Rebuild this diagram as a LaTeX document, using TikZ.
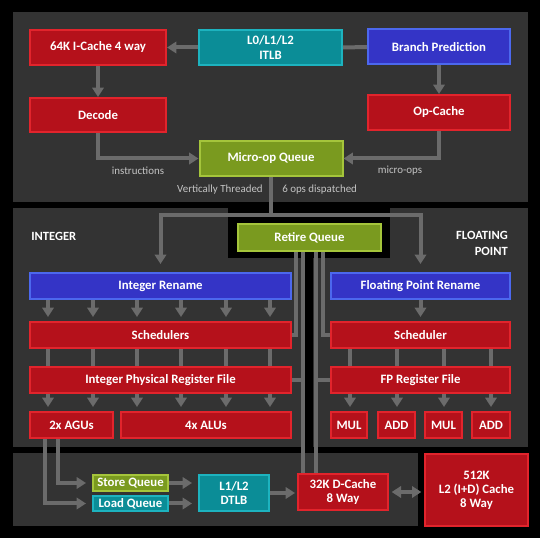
\documentclass[tikz,border=0pt]{standalone}
\usepackage{fontspec}
\setmainfont{Carlito}
\usetikzlibrary{arrows.meta}

\definecolor{panelgray}{HTML}{333333}
\definecolor{wiregray}{HTML}{6B6B6B}
\definecolor{redfill}{HTML}{B5111B}
\definecolor{redline}{HTML}{E2242C}
\definecolor{tealfill}{HTML}{0B8D97}
\definecolor{tealline}{HTML}{1DB3BF}
\definecolor{bluefill}{HTML}{3434C6}
\definecolor{blueline}{HTML}{4C68EE}
\definecolor{greenfill}{HTML}{7A9A1F}
\definecolor{greenline}{HTML}{A5C53B}
\definecolor{notegray}{HTML}{C4C4C4}

\tikzset{
	box/.style={draw, line width=1.5pt, inner sep=0pt, text=white, align=center,
		font=\fontsize{9.6}{10.6}\selectfont\bfseries},
	redbox/.style={box, fill=redfill, draw=redline},
	tealbox/.style={box, fill=tealfill, draw=tealline},
	bluebox/.style={box, fill=bluefill, draw=blueline},
	greenbox/.style={box, fill=greenfill, draw=greenline},
	sz/.style 2 args={minimum width=(#1-2)*0.75pt, minimum height=(#2-2)*0.75pt},
	link/.style={draw=wiregray, line width=3pt},
	arr/.style={link, -{Triangle[width=8.5pt,length=7pt]}},
	note/.style={text=notegray, inner sep=0pt, font=\fontsize{8.2}{9}\selectfont},
	title/.style={text=white, inner sep=0pt, align=right, font=\fontsize{9.4}{12}\selectfont\bfseries},
}

\begin{document}
\begin{tikzpicture}[x=0.75pt, y=-0.75pt]
	\useasboundingbox (0,0) rectangle (540,538);
	\fill[black] (0,0) rectangle (540,538);
	\fill[panelgray] (13,12) rectangle (528,202);
	\fill[panelgray] (13,208) rectangle (305,447);
	\fill[panelgray] (313,208) rectangle (528,447);
	\fill[panelgray] (13,453) rectangle (418,526);
	\fill[black] (228,208) rectangle (390,258);

	% front end
	\node[redbox, sz={138}{37}] (icache) at (98,47.5) {64K I-Cache 4 way};
	\node[tealbox, sz={145}{37}] (itlb) at (270.5,47.5) {L0/L1/L2\\ITLB};
	\node[bluebox, sz={144}{37}] (bpred) at (439,47) {Branch Prediction};
	\node[redbox, sz={138}{36}] (decode) at (98,115) {Decode};
	\node[redbox, sz={144}{37}] (opcache) at (439,112.5) {Op-Cache};
	\node[greenbox, sz={145}{37}] (uopq) at (271,158.5) {Micro-op Queue};

	\draw[arr] (itlb.west) -- (icache.east);
	\draw[link] (bpred.west) -- (itlb.east);
	\draw[arr] (icache.south) -- (decode.north);
	\draw[arr] (bpred.south) -- (opcache.north);
	\draw[arr] (decode.south) |- (uopq.west);
	\draw[arr] (opcache.south) |- (uopq.east);

	\node[note] (instr) at (138,171) {instructions};
	\node[note] (uops) at (400,171) {micro-ops};
	\node[note, anchor=east] (vthread) at (263,190) {Vertically Threaded};
	\node[note, anchor=west] (dispatch) at (282,190) {6 ops dispatched};

	% integer and floating point
	\node[title, anchor=west] (intlbl) at (31,236) {INTEGER};
	\node[title, anchor=east] (fplbl) at (508,243) {FLOATING\\POINT};

	\node[greenbox, sz={145}{29}] (retq) at (309.5,237.5) {Retire Queue};

	\node[bluebox, sz={263}{28}] (irename) at (160.5,286) {Integer Rename};
	\node[redbox, sz={263}{28}] (isched) at (160.5,335) {Schedulers};
	\node[redbox, sz={263}{28}] (iprf) at (160.5,380) {Integer Physical Register File};
	\node[redbox, sz={85}{28}] (agu) at (71.5,425) {2x AGUs};
	\node[redbox, sz={172}{28}] (alu) at (206,425) {4x ALUs};

	\node[bluebox, sz={181}{28}] (fprename) at (420.5,286) {Floating Point Rename};
	\node[redbox, sz={181}{28}] (fpsched) at (420.5,335) {Scheduler};
	\node[redbox, sz={181}{28}] (fprf) at (420.5,380) {FP Register File};
	\node[redbox, sz={38}{28}] (mula) at (349,425) {MUL};
	\node[redbox, sz={39}{28}] (adda) at (396.5,425) {ADD};
	\node[redbox, sz={39}{28}] (mulb) at (443.5,425) {MUL};
	\node[redbox, sz={40}{28}] (addb) at (491,425) {ADD};

	\coordinate (fork) at (271,215);
	\draw[link] (uopq.south) -- (fork);
	\draw[arr, shorten >=6pt] (fork) -| (irename.north);
	\draw[arr, shorten >=6pt] (fork) -| (fprename.north);

	\foreach \x in {48,93,137,181,226,270} {
		\draw[arr, shorten >=3pt] (irename.south -| \x,0) -- (isched.north -| \x,0);
		\draw[link] (isched.south -| \x,0) -- (iprf.north -| \x,0);
		\draw[arr, shorten >=3pt] (iprf.south -| \x,0) -- (agu.north -| \x,0);
	}
	\draw[arr, shorten >=3pt] (fprename.south) -- (fpsched.north);
	\foreach \x in {350,397,444,491} {
		\draw[link] (fpsched.south -| \x,0) -- (fprf.north -| \x,0);
		\draw[arr, shorten >=3pt] (fprf.south -| \x,0) -- (mula.north -| \x,0);
	}

	% load / store
	\node[greenbox, sz={77}{18}] (stq) at (130.5,483) {Store Queue};
	\node[tealbox, sz={77}{17}] (ldq) at (130.5,503.5) {Load Queue};
	\node[tealbox, sz={72}{38}] (dtlb) at (234,493) {L1/L2\\DTLB};
	\node[redbox, sz={92}{38}] (dcache) at (343,492) {32K D-Cache\\8 Way};
	\node[redbox, sz={105}{74}] (l2) at (476.5,490) {512K\\L2 (I+D) Cache\\8 Way};

	\draw[link] (retq.south -| 296,0) |- (isched.east);
	\draw[link] (retq.south -| 303,0) -- (dcache.north -| 303,0);
	\draw[link] (iprf.east) -- (iprf.east -| 303,0);
	\draw[link] (retq.south -| 323,0) |- (fpsched.west);
	\draw[link] (retq.south -| 316,0) -- (dcache.north -| 316,0);
	\draw[link] (fprf.west) -- (fprf.west -| 316,0);

	\draw[arr, shorten >=4.5pt] (agu.south -| 58,0) |- (stq.west);
	\draw[arr, shorten >=4.5pt] (agu.south -| 45,0) |- (ldq.west);
	\draw[arr, shorten >=4.5pt] (stq.east) -- (dtlb.west |- stq.east);
	\draw[arr, shorten >=4.5pt] (ldq.east) -- (dtlb.west |- ldq.east);
	\draw[arr, shorten >=1.5pt] (dtlb.east) -- (dcache.west |- dtlb.east);
	\draw[link, {Triangle[width=8.5pt,length=7pt]}-{Triangle[width=8.5pt,length=7pt]}, shorten <=2pt, shorten >=2pt] (dcache.east) -- (l2.west |- dcache.east);
\end{tikzpicture}
\end{document}
